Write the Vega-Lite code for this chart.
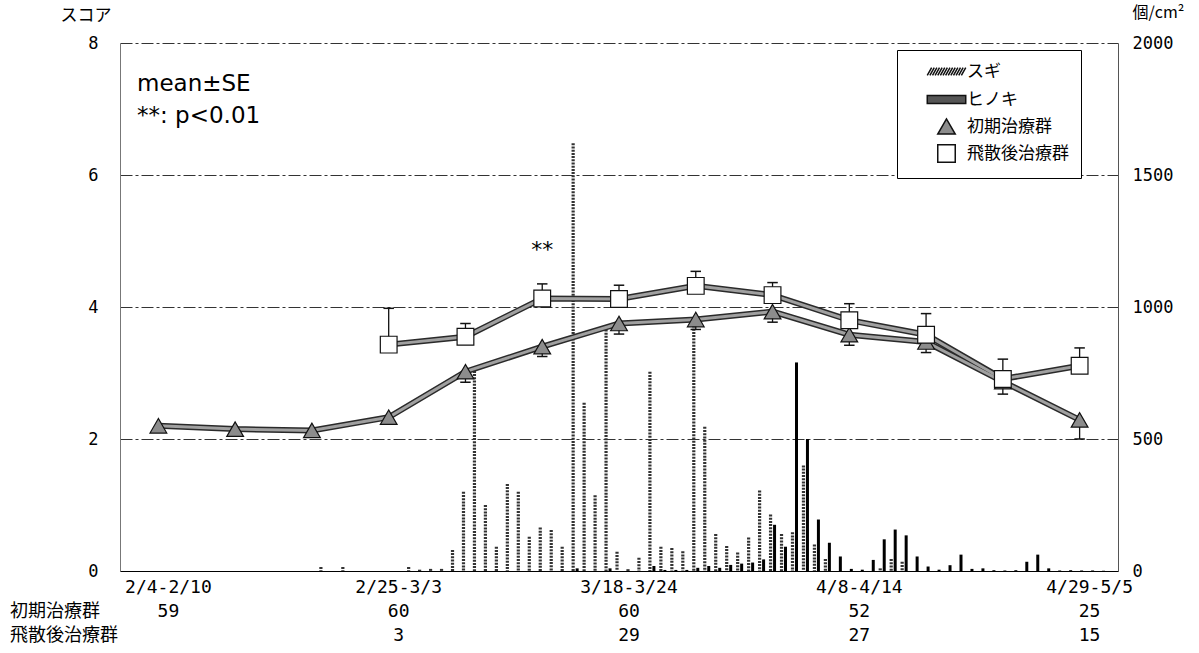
{
  "$schema": "https://vega.github.io/schema/vega-lite/v6.json",
  "width": 998,
  "height": 528,
  "autosize": {"type": "none"},
  "padding": {"left": 120, "top": 43, "right": 81, "bottom": 82},
  "background": "white",
  "title": {
    "text": ["mean±SE", "**: p<0.01"],
    "anchor": "start",
    "frame": "group",
    "orient": "top",
    "baseline": "top",
    "offset": 0,
    "dx": 17,
    "dy": 124,
    "font": "DejaVu Sans",
    "fontSize": 23,
    "fontWeight": "normal",
    "lineHeight": 32,
    "color": "#000"
  },
  "datasets": {
    "pollen": [
      {"date": "2007-02-22", "sugi": 15, "hinoki": 0},
      {"date": "2007-02-24", "sugi": 15, "hinoki": 0},
      {"date": "2007-03-02", "sugi": 15, "hinoki": 0},
      {"date": "2007-03-03", "sugi": 5, "hinoki": 0},
      {"date": "2007-03-04", "sugi": 8, "hinoki": 0},
      {"date": "2007-03-05", "sugi": 8, "hinoki": 0},
      {"date": "2007-03-06", "sugi": 80, "hinoki": 0},
      {"date": "2007-03-07", "sugi": 300, "hinoki": 0},
      {"date": "2007-03-08", "sugi": 770, "hinoki": 0},
      {"date": "2007-03-09", "sugi": 250, "hinoki": 0},
      {"date": "2007-03-10", "sugi": 92, "hinoki": 0},
      {"date": "2007-03-11", "sugi": 330, "hinoki": 0},
      {"date": "2007-03-12", "sugi": 300, "hinoki": 0},
      {"date": "2007-03-13", "sugi": 130, "hinoki": 0},
      {"date": "2007-03-14", "sugi": 165, "hinoki": 0},
      {"date": "2007-03-15", "sugi": 155, "hinoki": 0},
      {"date": "2007-03-16", "sugi": 92, "hinoki": 0},
      {"date": "2007-03-17", "sugi": 1620, "hinoki": 10},
      {"date": "2007-03-18", "sugi": 637, "hinoki": 0},
      {"date": "2007-03-19", "sugi": 287, "hinoki": 0},
      {"date": "2007-03-20", "sugi": 915, "hinoki": 10},
      {"date": "2007-03-21", "sugi": 73, "hinoki": 0},
      {"date": "2007-03-22", "sugi": 7, "hinoki": 0},
      {"date": "2007-03-23", "sugi": 50, "hinoki": 0},
      {"date": "2007-03-24", "sugi": 755, "hinoki": 19},
      {"date": "2007-03-25", "sugi": 92, "hinoki": 4},
      {"date": "2007-03-26", "sugi": 87, "hinoki": 4},
      {"date": "2007-03-27", "sugi": 75, "hinoki": 4},
      {"date": "2007-03-28", "sugi": 930, "hinoki": 12},
      {"date": "2007-03-29", "sugi": 546, "hinoki": 19},
      {"date": "2007-03-30", "sugi": 140, "hinoki": 12},
      {"date": "2007-03-31", "sugi": 95, "hinoki": 23},
      {"date": "2007-04-01", "sugi": 70, "hinoki": 28},
      {"date": "2007-04-02", "sugi": 127, "hinoki": 32},
      {"date": "2007-04-03", "sugi": 305, "hinoki": 44},
      {"date": "2007-04-04", "sugi": 214, "hinoki": 175},
      {"date": "2007-04-05", "sugi": 140, "hinoki": 92},
      {"date": "2007-04-06", "sugi": 147, "hinoki": 790},
      {"date": "2007-04-07", "sugi": 400, "hinoki": 500},
      {"date": "2007-04-08", "sugi": 100, "hinoki": 195},
      {"date": "2007-04-09", "sugi": 45, "hinoki": 107},
      {"date": "2007-04-10", "sugi": 0, "hinoki": 55},
      {"date": "2007-04-11", "sugi": 0, "hinoki": 8},
      {"date": "2007-04-12", "sugi": 0, "hinoki": 5},
      {"date": "2007-04-13", "sugi": 0, "hinoki": 42},
      {"date": "2007-04-14", "sugi": 10, "hinoki": 120},
      {"date": "2007-04-15", "sugi": 45, "hinoki": 157},
      {"date": "2007-04-16", "sugi": 35, "hinoki": 135},
      {"date": "2007-04-17", "sugi": 0, "hinoki": 55},
      {"date": "2007-04-18", "sugi": 0, "hinoki": 17},
      {"date": "2007-04-19", "sugi": 0, "hinoki": 5},
      {"date": "2007-04-20", "sugi": 0, "hinoki": 22},
      {"date": "2007-04-21", "sugi": 0, "hinoki": 62},
      {"date": "2007-04-22", "sugi": 0, "hinoki": 8},
      {"date": "2007-04-23", "sugi": 0, "hinoki": 10},
      {"date": "2007-04-24", "sugi": 0, "hinoki": 3},
      {"date": "2007-04-25", "sugi": 0, "hinoki": 2},
      {"date": "2007-04-26", "sugi": 0, "hinoki": 3},
      {"date": "2007-04-27", "sugi": 0, "hinoki": 35},
      {"date": "2007-04-28", "sugi": 0, "hinoki": 62},
      {"date": "2007-04-29", "sugi": 0, "hinoki": 10},
      {"date": "2007-04-30", "sugi": 0, "hinoki": 2},
      {"date": "2007-05-01", "sugi": 0, "hinoki": 3},
      {"date": "2007-05-02", "sugi": 0, "hinoki": 2},
      {"date": "2007-05-03", "sugi": 0, "hinoki": 2},
      {"date": "2007-05-04", "sugi": 0, "hinoki": 1}
    ],
    "score": [
      {"week": "2007-02-04", "group": "初期治療群", "mean": 2.20, "err": 2.13},
      {"week": "2007-02-11", "group": "初期治療群", "mean": 2.15, "err": 2.08},
      {"week": "2007-02-18", "group": "初期治療群", "mean": 2.13, "err": 2.06},
      {"week": "2007-02-25", "group": "初期治療群", "mean": 2.33, "err": 2.26},
      {"week": "2007-03-04", "group": "初期治療群", "mean": 3.02, "err": 2.86},
      {"week": "2007-03-11", "group": "初期治療群", "mean": 3.40, "err": 3.25},
      {"week": "2007-03-18", "group": "初期治療群", "mean": 3.75, "err": 3.59},
      {"week": "2007-03-25", "group": "初期治療群", "mean": 3.81, "err": 3.66},
      {"week": "2007-04-01", "group": "初期治療群", "mean": 3.93, "err": 3.77},
      {"week": "2007-04-08", "group": "初期治療群", "mean": 3.58, "err": 3.42},
      {"week": "2007-04-15", "group": "初期治療群", "mean": 3.47, "err": 3.31},
      {"week": "2007-04-22", "group": "初期治療群", "mean": 2.87, "err": 2.68},
      {"week": "2007-04-29", "group": "初期治療群", "mean": 2.29, "err": 2.00},
      {"week": "2007-02-25", "group": "飛散後治療群", "mean": 3.43, "err": 3.98},
      {"week": "2007-03-04", "group": "飛散後治療群", "mean": 3.55, "err": 3.75},
      {"week": "2007-03-11", "group": "飛散後治療群", "mean": 4.13, "err": 4.35, "sig": "**"},
      {"week": "2007-03-18", "group": "飛散後治療群", "mean": 4.12, "err": 4.33},
      {"week": "2007-03-25", "group": "飛散後治療群", "mean": 4.32, "err": 4.54},
      {"week": "2007-04-01", "group": "飛散後治療群", "mean": 4.18, "err": 4.37},
      {"week": "2007-04-08", "group": "飛散後治療群", "mean": 3.80, "err": 4.05},
      {"week": "2007-04-15", "group": "飛散後治療群", "mean": 3.58, "err": 3.90},
      {"week": "2007-04-22", "group": "飛散後治療群", "mean": 2.91, "err": 3.21},
      {"week": "2007-04-29", "group": "飛散後治療群", "mean": 3.11, "err": 3.38}
    ],
    "weeks": [
      {"week": "2007-02-04", "label": "2/4-2/10"},
      {"week": "2007-02-25", "label": "2/25-3/3"},
      {"week": "2007-03-18", "label": "3/18-3/24"},
      {"week": "2007-04-08", "label": "4/8-4/14"},
      {"week": "2007-04-29", "label": "4/29-5/5"}
    ],
    "counts": [
      {"week": "2007-02-04", "group": "初期治療群", "n": 59},
      {"week": "2007-02-25", "group": "初期治療群", "n": 60},
      {"week": "2007-03-18", "group": "初期治療群", "n": 60},
      {"week": "2007-04-08", "group": "初期治療群", "n": 52},
      {"week": "2007-04-29", "group": "初期治療群", "n": 25},
      {"week": "2007-02-25", "group": "飛散後治療群", "n": 3},
      {"week": "2007-03-18", "group": "飛散後治療群", "n": 29},
      {"week": "2007-04-08", "group": "飛散後治療群", "n": 27},
      {"week": "2007-04-29", "group": "飛散後治療群", "n": 15}
    ]
  },
  "layer": [
    {
      "data": {"name": "pollen"},
      "mark": {"type": "rule", "stroke": "#333", "strokeWidth": 3.2, "strokeDash": [2, 1.2], "xOffset": 3.5},
      "encoding": {
        "x": {
          "field": "date", "type": "temporal",
          "scale": {
            "type": "utc", "nice": false,
            "domain": [
              {"year": 2007, "month": 2, "date": 4, "utc": true},
              {"year": 2007, "month": 5, "date": 6, "utc": true}
            ]
          },
          "axis": {"title": null}
        },
        "y": {
          "field": "sugi", "type": "quantitative",
          "scale": {"domain": [0, 2000]},
          "axis": {
            "orient": "right",
            "values": [0, 500, 1000, 1500, 2000],
            "format": "d",
            "grid": false,
            "ticks": false,
            "domainColor": "#555",
            "labelPadding": 14,
            "labelFont": "DejaVu Sans Mono",
            "labelFontSize": 17,
            "title": "個/cm²",
            "titleAngle": 0,
            "titleX": 14,
            "titleY": -31,
            "titleAlign": "left",
            "titleBaseline": "middle",
            "titleFont": "Noto Sans CJK JP",
            "titleFontSize": 16,
            "titleFontWeight": "normal"
          }
        },
        "y2": {"datum": 0}
      }
    },
    {
      "data": {"name": "pollen"},
      "mark": {"type": "rule", "stroke": "#000", "strokeWidth": 3, "xOffset": 7.5},
      "encoding": {
        "x": {"field": "date", "type": "temporal", "axis": {"title": null}},
        "y": {"field": "hinoki", "type": "quantitative", "scale": {"domain": [0, 2000]}, "axis": null},
        "y2": {"datum": 0}
      }
    },
    {
      "data": {"name": "score"},
      "mark": {"type": "rule", "stroke": "#111", "strokeWidth": 1.3},
      "encoding": {
        "x": {"field": "week", "type": "temporal", "timeUnit": "utcyearweek", "bandPosition": 0.5, "axis": {"title": null}},
        "y": {
          "field": "mean", "type": "quantitative",
          "scale": {"domain": [0, 8]},
          "axis": {
            "orient": "left",
            "values": [0, 2, 4, 6, 8],
            "grid": true,
            "gridDash": [12, 3, 3, 3],
            "gridColor": "#333",
            "gridWidth": 1,
            "domainColor": "#777",
            "ticks": false,
            "labelPadding": 22,
            "labelFont": "DejaVu Sans Mono",
            "labelFontSize": 17,
            "title": "スコア",
            "titleAngle": 0,
            "titleX": -60,
            "titleY": -28,
            "titleAlign": "left",
            "titleBaseline": "middle",
            "titleFont": "Noto Sans CJK JP",
            "titleFontSize": 17,
            "titleFontWeight": "normal"
          }
        },
        "y2": {"field": "err"}
      }
    },
    {
      "data": {"name": "score"},
      "mark": {"type": "point", "shape": "stroke", "size": 110, "filled": false, "stroke": "#111", "strokeWidth": 1.5, "opacity": 1},
      "encoding": {
        "x": {"field": "week", "type": "temporal", "timeUnit": "utcyearweek", "bandPosition": 0.5, "axis": {"title": null}},
        "y": {"field": "err", "type": "quantitative", "scale": {"domain": [0, 8]}, "axis": null}
      }
    },
    {
      "data": {"name": "score"},
      "mark": {"type": "line", "stroke": "#2a2a2a", "strokeWidth": 6},
      "encoding": {
        "x": {"field": "week", "type": "temporal", "timeUnit": "utcyearweek", "bandPosition": 0.5, "axis": {"title": null}},
        "y": {"field": "mean", "type": "quantitative", "scale": {"domain": [0, 8]}, "axis": null},
        "detail": {"field": "group"}
      }
    },
    {
      "data": {"name": "score"},
      "mark": {"type": "line", "stroke": "#a0a0a0", "strokeWidth": 3},
      "encoding": {
        "x": {"field": "week", "type": "temporal", "timeUnit": "utcyearweek", "bandPosition": 0.5, "axis": {"title": null}},
        "y": {"field": "mean", "type": "quantitative", "scale": {"domain": [0, 8]}, "axis": null},
        "detail": {"field": "group"}
      }
    },
    {
      "data": {"name": "score"},
      "mark": {"type": "point", "filled": true, "size": 280, "stroke": "#111", "strokeWidth": 1.2, "opacity": 1},
      "encoding": {
        "x": {"field": "week", "type": "temporal", "timeUnit": "utcyearweek", "bandPosition": 0.5, "axis": {"title": null}},
        "y": {"field": "mean", "type": "quantitative", "scale": {"domain": [0, 8]}, "axis": null},
        "shape": {
          "field": "group", "type": "nominal", "title": null,
          "scale": {
            "domain": ["スギ", "ヒノキ", "初期治療群", "飛散後治療群"],
            "range": [
              "M-2.2,0.45L-1.7,-0.45M-1.9,0.45L-1.4,-0.45M-1.6,0.45L-1.1,-0.45M-1.3,0.45L-0.8,-0.45M-1,0.45L-0.5,-0.45M-0.7,0.45L-0.2,-0.45M-0.4,0.45L0.1,-0.45M-0.1,0.45L0.4,-0.45M0.2,0.45L0.7,-0.45M0.5,0.45L1,-0.45M0.8,0.45L1.3,-0.45M1.1,0.45L1.6,-0.45M1.4,0.45L1.9,-0.45M1.7,0.45L2.2,-0.45M0,-1L0,-1M0,1L0,1",
              "M-2.2,-0.45H2.2V0.45H-2.2ZM0,-1L0,-1M0,1L0,1",
              "triangle-up",
              "square"
            ]
          },
          "legend": {
            "title": null,
            "orient": "none",
            "legendX": 777,
            "legendY": 7,
            "strokeColor": "#000",
            "fillColor": "#fff",
            "padding": 12,
            "rowPadding": 3,
            "symbolSize": 306,
            "symbolOffset": 28,
            "labelOffset": 11,
            "labelFont": "Noto Sans CJK JP",
            "labelFontSize": 17,
            "labelColor": "#000"
          }
        },
        "fill": {
          "field": "group", "type": "nominal", "title": null,
          "scale": {
            "domain": ["スギ", "ヒノキ", "初期治療群", "飛散後治療群"],
            "range": ["transparent", "#555", "#8c8c8c", "#fff"]
          },
          "legend": {
            "title": null,
            "orient": "none",
            "legendX": 777,
            "legendY": 7,
            "strokeColor": "#000",
            "fillColor": "#fff",
            "padding": 12,
            "rowPadding": 3,
            "symbolSize": 306,
            "symbolOffset": 28,
            "labelOffset": 11,
            "labelFont": "Noto Sans CJK JP",
            "labelFontSize": 17,
            "labelColor": "#000"
          }
        }
      }
    },
    {
      "data": {"name": "score"},
      "transform": [{"filter": "datum.sig"}],
      "mark": {"type": "text", "dy": -34, "font": "DejaVu Sans", "fontSize": 22, "color": "#000"},
      "encoding": {
        "x": {"field": "week", "type": "temporal", "timeUnit": "utcyearweek", "bandPosition": 0.5, "axis": {"title": null}},
        "y": {"field": "err", "type": "quantitative", "scale": {"domain": [0, 8]}, "axis": null},
        "text": {"field": "sig"}
      }
    },
    {
      "data": {"name": "weeks"},
      "mark": {"type": "text", "dx": 10, "baseline": "middle", "font": "DejaVu Sans Mono", "fontSize": 18, "color": "#000"},
      "encoding": {
        "x": {"field": "week", "type": "temporal", "timeUnit": "utcyearweek", "bandPosition": 0.5, "axis": {"title": null}},
        "y": {"datum": -0.26, "type": "quantitative", "scale": {"domain": [0, 8]}, "axis": null},
        "text": {"field": "label"}
      }
    },
    {
      "data": {"name": "counts"},
      "transform": [{"filter": "datum.group === '初期治療群'"}],
      "mark": {"type": "text", "dx": 10, "baseline": "middle", "font": "DejaVu Sans Mono", "fontSize": 18, "color": "#000"},
      "encoding": {
        "x": {"field": "week", "type": "temporal", "timeUnit": "utcyearweek", "bandPosition": 0.5, "axis": {"title": null}},
        "y": {"datum": -0.62, "type": "quantitative", "scale": {"domain": [0, 8]}, "axis": null},
        "text": {"field": "n"}
      }
    },
    {
      "data": {"name": "counts"},
      "transform": [{"filter": "datum.group === '飛散後治療群'"}],
      "mark": {"type": "text", "dx": 10, "baseline": "middle", "font": "DejaVu Sans Mono", "fontSize": 18, "color": "#000"},
      "encoding": {
        "x": {"field": "week", "type": "temporal", "timeUnit": "utcyearweek", "bandPosition": 0.5, "axis": {"title": null}},
        "y": {"datum": -0.98, "type": "quantitative", "scale": {"domain": [0, 8]}, "axis": null},
        "text": {"field": "n"}
      }
    },
    {
      "data": {"name": "counts"},
      "transform": [
        {"filter": "datum.group === '初期治療群'"},
        {"aggregate": [{"op": "count", "as": "weeks"}], "groupby": ["group"]}
      ],
      "mark": {"type": "text", "dx": -110, "align": "left", "baseline": "middle", "font": "Noto Sans CJK JP", "fontSize": 18, "color": "#000"},
      "encoding": {
        "x": {"datum": {"year": 2007, "month": 2, "date": 4, "utc": true}, "type": "temporal", "axis": {"title": null}},
        "y": {"datum": -0.62, "type": "quantitative", "scale": {"domain": [0, 8]}, "axis": null},
        "text": {"field": "group"}
      }
    },
    {
      "data": {"name": "counts"},
      "transform": [
        {"filter": "datum.group === '飛散後治療群'"},
        {"aggregate": [{"op": "count", "as": "weeks"}], "groupby": ["group"]}
      ],
      "mark": {"type": "text", "dx": -110, "align": "left", "baseline": "middle", "font": "Noto Sans CJK JP", "fontSize": 18, "color": "#000"},
      "encoding": {
        "x": {"datum": {"year": 2007, "month": 2, "date": 4, "utc": true}, "type": "temporal", "axis": {"title": null}},
        "y": {"datum": -0.98, "type": "quantitative", "scale": {"domain": [0, 8]}, "axis": null},
        "text": {"field": "group"}
      }
    }
  ],
  "resolve": {"scale": {"y": "independent"}},
  "config": {
    "font": "DejaVu Sans",
    "view": {"stroke": null},
    "axis": {"labelColor": "#000", "titleColor": "#000"},
    "axisX": {
      "labels": false,
      "ticks": false,
      "grid": false,
      "domainColor": "#000",
      "domainWidth": 1.2
    }
  }
}
